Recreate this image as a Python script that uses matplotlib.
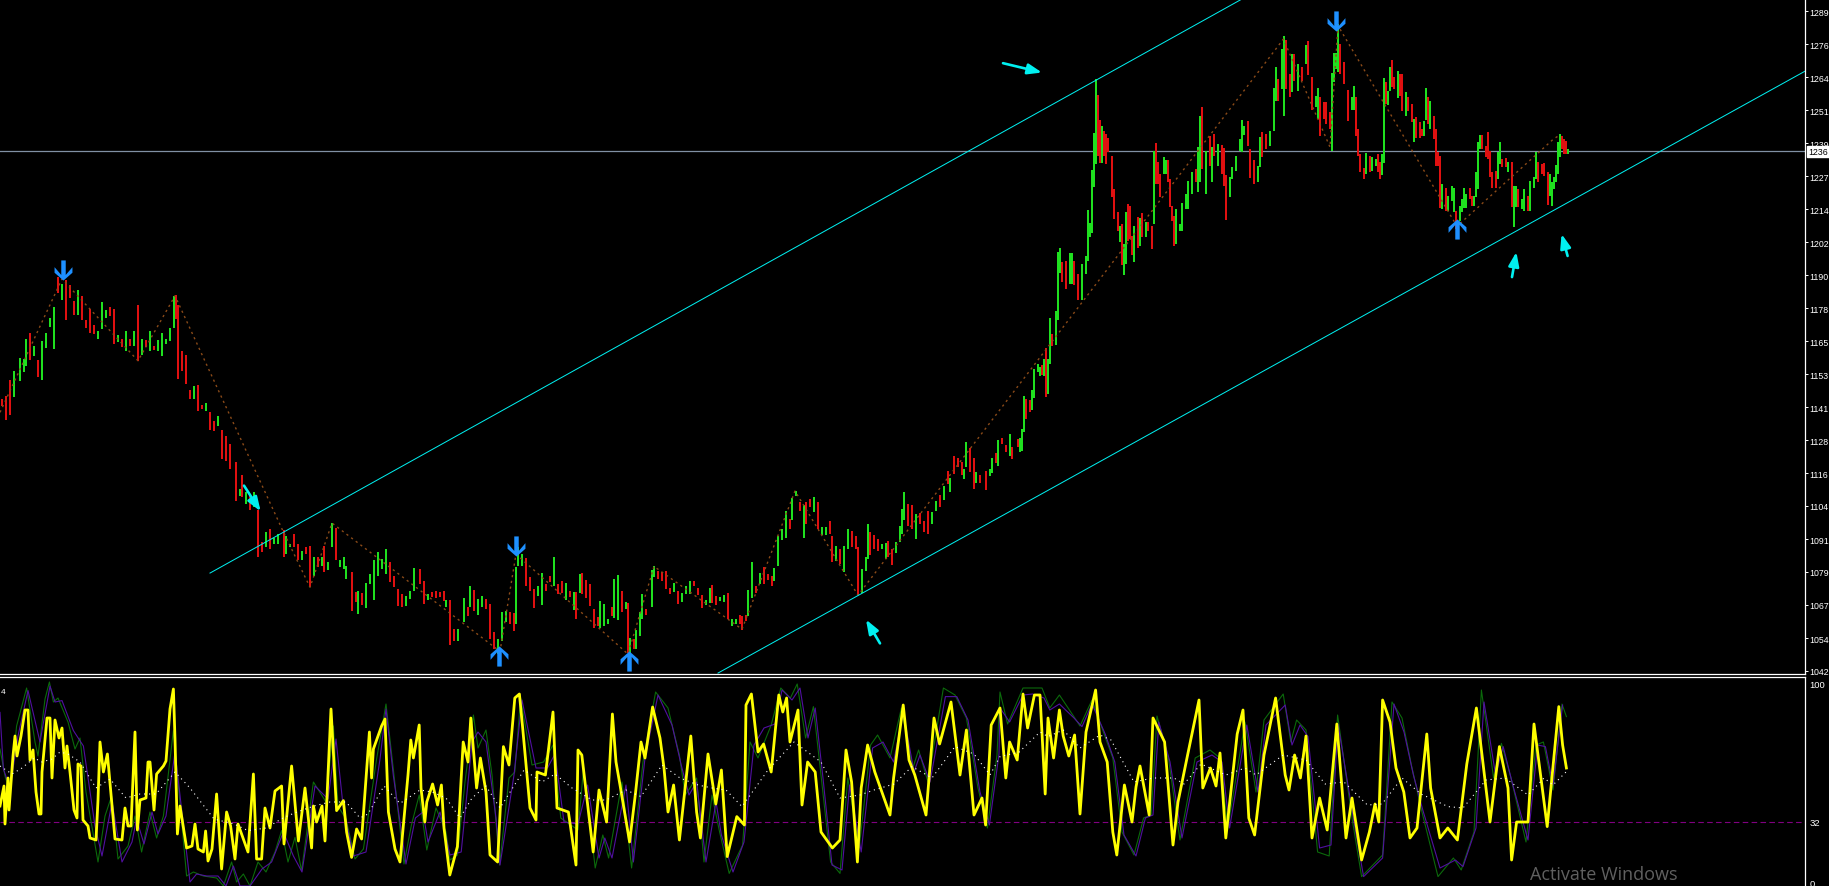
import matplotlib
matplotlib.use("Agg")
import matplotlib.pyplot as plt
from matplotlib.path import Path

# GLOBAL CONSTANTS
W, H = 1829, 887
PANE_RIGHT = 1805
PANE_SPLIT = 675
GREEN = '#1fe01f'
RED = '#e01010'
CYAN = '#00f0f0'
BLUE = '#1e90ff'
BROWN = '#8a4a18'

# price bars in stretches (bar number, high, low, r/g)
no_a = [1,3,5,7,10,12,13,15,17,19, 21,23,25,27,29,31,33,35,37,39, 41,43,45,47,49,51,53,55,57,59,
        61,63,65,67,69,71,73,75,77,79, 81,83,85,87,88,89,91,93,95,97, 99,101,103,105,107,109,111]
high_a = [1144.4,1145.6,1151.5,1155,1159.7,1159.3,1166.8,1169,1164.3,1159,
          1166,1169,1174.6,1178.7,1190,1187.4,1189,1187,1181,1185,
          1183,1174,1178,1172,1170,1180.8,1177.8,1178.7,1178,1168.3,
          1167,1170,1167,1170,1179.5,1166.8,1166.5,1169.7,1164.3,1166.5,
          1169,1167,1171,1183,1183.3,1179.5,1162.5,1161,1147.8,1149.4,
          1149.6,1142,1143,1139.4,1136,1138,1132.8]
low_a = [1141.6,1136.7,1138.5,1145,1151.2,1154.6,1156.9,1159,1160.6,1152.5,
         1151.6,1163.5,1171.4,1163,1184,1181.5,1174,1182,1176,1176,
         1174,1171,1169,1168.7,1167,1170.6,1174.6,1175.6,1165,1165.6,
         1164,1162.5,1164.3,1164.3,1158.7,1160.8,1163.7,1162.5,1162.7,1162.5,
         1160.6,1165,1166,1171,1174.3,1152,1155,1150,1144.4,1144.4,
         1140,1140.6,1139.8,1132.8,1132.5,1134.4,1122]
dir_a = "rrrggggrgr" "ggggrgrrrg" "rrrrgggrrg" "rgrgrgrgrg" "ggggrrrrrg" "rrgrrgr"

no_b = [113,115,118,120,121,123,125,127,129,131, 133,135,137,139,142,143,145,147,149,151,
        153,155,157,159,161,162,164,166,168,170, 172,173,176,178,179,181,183,185,187,189,
        191,193,195,197,199,201,203,205,207,210, 212,214,216,218,220,222,223,225,227,229,
        232,234,235,237,239,241,243,245,247,249, 251,253,255,257,258,259,261,263,265,267,
        269,271,273,275,277,279]
high_b = [1130.6,1127.6,1121,1110.8,1116,1109.5,1108,1109.5,1102.7,1090.8,
          1094.5,1095.8,1092.3,1093.9,1095.5,1093.3,1090.2,1093.9,1090.2,1087.7,
          1089,1089.6,1085.2,1085.2,1085.2,1089.6,1083.3,1098,1096,1084,
          1085.2,1081.8,1079.6,1072.1,1072.7,1071.7,1075.6,1079,1084.3,1087,
          1084.6,1088.3,1083.3,1078.3,1073.3,1071.5,1070.9,1072.7,1081.2,1080.8,
          1076.5,1071.5,1072.1,1072.7,1072.1,1072.7,1069.4,1069.4,1058.4,1058.4,
          1069.9,1066.5,1074.6,1073,1069.6,1070.9,1069.6,1067.7,1057.1,1054.6,
          1064.6,1065.2,1064.6,1064.4,1081.5,1089,1086.4,1085,1077.7,1073.4,
          1074.6,1079.2,1075.2,1078.3,1085.2,1075.2]
low_b = [1121.2,1118.2,1106.4,1108,1107.6,1105.1,1103,1103.9,1085.2,1087,
         1089,1088.3,1090.2,1090.2,1085.2,1086.4,1089,1089,1084,1084,
         1086.4,1074,1078.3,1081.5,1082,1079.6,1080.6,1089,1084.2,1081.5,
         1080.8,1077,1065.2,1068.6,1064,1067.4,1066.1,1075.2,1069.4,1078.3,
         1080.8,1079,1075.8,1074,1067.1,1066.5,1067.1,1069.6,1072.7,1075.2,
         1067.7,1069.4,1070.2,1070,1070.2,1069,1066.5,1052.5,1054,1054,
         1061.1,1063.4,1066.5,1065.2,1063.7,1066.5,1065.9,1054.6,1050.9,1049,
         1054,1060.9,1060.3,1057.8,1060.3,1082,1081.8,1074.6,1072.7,1066.1,
         1070.9,1067.4,1072.7,1075.8,1074.6,1071.5]
dir_b = "rrrgrgrgrr" "grggrggrrg" "rrgrgrggrg" "ggrrgrgggg" "ggrrrrgggr" "rgrrrrgrrg" "grgrggrrrg" "ggrrgggrrr" "ggrrgr"

no_c = [281,283,285,287,288,290,291,293,295,297, 299,300,302,304,306,307,309,311,313,314,
        315,317,318,320,321,323,326,327,329,331, 333,335,337,339,341,343,345,347,349,351,
        353,355,356,358,360,362,364,366,368,370, 371,373,374,376,378,380,382,384,386,387,
        389,391,393,395,396,398,400,402,403,405, 407,409,411,413,415,416,418,420,422,424,
        426,428,429,431,433,434,435,437,439,441, 443,444,446,448]
high_c = [1076.2,1075.4,1072.7,1072.3,1072.3,1078.9,1079.5,1076.7,1075.2,1065.8,
          1062.7,1068.8,1067.7,1062.1,1066.7,1077,1078.5,1072.7,1068.3,1068,
          1055.2,1054.6,1058,1064.8,1071.4,1065.8,1080.4,1081.8,1080.2,1079.8,
          1080.2,1073.9,1075.6,1072.7,1071.8,1074.6,1076.4,1076.4,1073.9,1071,
          1069.3,1073.9,1074.9,1070.8,1070.2,1071,1072,1062.1,1062.1,1063.6,
          1063.3,1063.7,1073,1083.3,1074.6,1079.3,1081.7,1078.9,1078.1,1081.2,
          1093.3,1095.8,1102.6,1099.5,1107.2,1110.1,1105.7,1104.7,1106,1107,
          1107.6,1105.7,1096.4,1096.4,1098.9,1093.3,1089.5,1088.3,1089.3,1095.8,
          1095.1,1093.3,1088.9,1080.8,1085.2,1097.6,1094.5,1093.5,1092,1090.1,
          1090.5,1091.4,1088.3,1091]
low_c = [1071.8,1069.3,1070.2,1065.6,1062.1,1071.7,1071.4,1069.8,1066.8,1058.6,
         1059.6,1058.6,1059.6,1060.2,1063.3,1062.5,1061.8,1064.6,1065.8,1049.4,
         1047.1,1050.9,1050.9,1055.6,1062.1,1063.6,1066.7,1077.7,1077,1076.4,
         1073.3,1071.4,1072.3,1067.7,1068.6,1071.4,1071.4,1074.6,1071,1066.4,
         1067.3,1068.1,1068.1,1067.4,1068.9,1068.3,1062.1,1059.6,1060.2,1060.2,
         1058,1061.5,1063.3,1069.8,1071.8,1075.2,1075.2,1076.7,1074.6,1076.4,
         1082,1091.8,1092.6,1095.8,1099.2,1108.2,1102.6,1092.4,1097.6,1103.9,
         1102,1095.8,1093.5,1093.5,1093.9,1083.3,1083.9,1082.7,1079.6,1088.3,
         1088.9,1088.3,1071,1072,1080.2,1084.5,1086,1088.3,1087.6,1088.3,
         1084.5,1085.2,1082.4,1086.8]
dir_c = "rgrgrgrrrr" "rgggrggrgr" "grgggrggrr" "rrgrgggrrr" "ggrrggrggr" "rrggrgrrrg" "gggrggrgrr" "grggrrgrgg" "rrrgggrrrg" "grrg"

no_d = [450,451,452,454,456,458,460,462,464,466, 468,470,472,474,475,477,479,481,482,483,
        485,487,488,490,493,495,496,498,499,501, 503,505,506,509,510,511,512,513,515,516,
        517,519,520,521,522,523,524,525,526,528, 529,530,531,533,535,536,537,539]
high_d = [1097,1103.2,1109.5,1105,1104.7,1101.4,1101.9,1098.9,1102.6,1102.2,
          1106.4,1108.5,1111.7,1117.6,1115,1123.2,1122.2,1120.7,1118.2,1128.2,
          1126,1122.2,1117,1116,1117.6,1118.2,1122.2,1124.2,1129,1129.7,
          1127.2,1131.3,1126.3,1129.4,1129.8,1133.2,1145.6,1144.4,1144,1147.8,
          1155.6,1157.5,1156.5,1157.1,1159.3,1163.5,1159.3,1174.7,1168.7,1177.4,
          1199.5,1201,1195.5,1196,1199,1199,1196,1191.1]
low_d = [1091,1093.9,1099,1097,1095.7,1092,1097.6,1094.5,1093.9,1097.6,
         1102.6,1103.9,1106.6,1112.6,1109.5,1116.3,1118.8,1116,1114.5,1119,
         1117,1110.7,1113,1113,1110.4,1115.7,1116.7,1120.4,1119.4,1127.5,
         1124.4,1123.2,1122,1126.3,1124.4,1125,1132.2,1137,1139.4,1140.4,
         1144.8,1154.4,1153.1,1153.5,1153.1,1145.2,1146.3,1157.5,1164.3,1164.6,
         1174,1191.5,1188.3,1185.5,1187.4,1187.4,1187,1181.4]
dir_d = "gggrrgrrrg" "grgrgrrrgg" "rrgrrggrgr" "rgrrgggrrg" "gggrgrggrg" "ggrrggrr"

no_e = [541,543,544,545,546,547,548,549,550,551, 552,553,554,556,557,559,560,561,562,563,
        564,565,566,567,569,570,571,573,574,576, 577,578,579,580,582,583,584,585,586,587,
        588,590,591,593,594,596,598,599,600,601, 603,605,606,607,609,611,612,613,615,616,
        618,620,621,622,624,625,627,629,630,631, 633,635,637,638,639,641,642,643,645,646,
        647,649,651,653,654,656,658,659,660,662, 663,665,666,667,668,669,670,672,674,676,
        677,678,679,680,682,683,685,686,688,689, 690]
high_e = [1194.9,1198,1214.9,1210.2,1230,1244,1264.1,1258.1,1248.8,1246.6,
          1244.8,1243.5,1241.9,1235.4,1222.9,1214.5,1209.2,1209.9,1202.4,1214.2,
          1217.3,1216.7,1205.5,1209.2,1212.4,1212,1214,1210.5,1210.5,1209.2,
          1237,1240,1232.9,1228.6,1234.8,1233.6,1233.6,1226.7,1216.7,1213,
          1215.5,1209.9,1217.6,1221,1226.1,1229.2,1230.4,1238.5,1250.4,1253.5,
          1237.3,1242.9,1238.5,1243.5,1239.8,1239.4,1238.2,1228.3,1227.3,1231.1,
          1235.4,1241.7,1248.8,1246.6,1248.5,1237.9,1233.6,1231.7,1242.3,1244.4,
          1243.5,1244.8,1260.7,1268.5,1264.1,1275.3,1280.1,1278.5,1266,1273.5,
          1273.5,1269.7,1268.5,1276.8,1278.2,1264.7,1257.6,1260.7,1257.3,1255.4,
          1255.4,1251.6,1266.4,1273.8,1273.8,1284.7,1277.2,1270.3,1260,1257.3,
          1261.4,1257.3,1245.4,1236.1,1230.7,1236.4,1235.4,1234.8,1234.2,1236.1,
          1233]
low_e = [1181.6,1191,1196,1205.1,1206.5,1223.8,1232.3,1235.4,1232.7,1232.7,
         1235.4,1232.3,1236.7,1219.8,1211.7,1207.4,1203,1194.5,1190.8,1194.9,
         1203.4,1204.3,1198.3,1195.8,1201,1201.8,1204.9,1204.9,1207.4,1200.5,
         1209.9,1224.8,1224.8,1219.8,1228.6,1228.6,1225.5,1216.1,1211.1,1201.8,
         1202.4,1207.4,1207.4,1215.5,1215.5,1221,1225.5,1221.7,1225.5,1230.4,
         1221,1231.7,1225.5,1235.4,1231.7,1228.6,1224.2,1211.4,1219.8,1226.7,
         1229.8,1237.3,1236.9,1243.2,1239.2,1227,1224.8,1225.5,1231.1,1234.8,
         1237.9,1239.2,1244.8,1256,1256,1260.4,1250.4,1260.4,1257.3,1259.1,
         1263.5,1259.7,1263.5,1269.7,1265.4,1252.3,1253.5,1249.2,1242.9,1249.2,
         1247.3,1245.4,1237,1263.1,1267.9,1266.6,1266,1262.2,1248.5,1252.3,
         1252.3,1242.9,1235.4,1229.4,1226.7,1228.6,1229.2,1229.8,1231.7,1229.2,
         1226.7]
dir_e = "gggggggrrg" "rrrrrrgrgg" "rrrgrgrgrr" "grrrggrrrr" "ggggggrggr" "grgrgrrrgg" "ggggrrrggr" "rgggrggrrg" "rgrgrrggrr" "rrggggrrrg" "grrrrgrggr" "r"

no_f = [691,692,693,694,695,696,697,699,700,701, 703,704,706,707,708,710,711,712,713,714,
        715,717,718,719,720,721,723,724,726,727, 728,730,731,732,733,735,736,737,738,739,
        740,741,743,744,745,746,748,749,750,751, 753,754,756,757,758,759,761,762,764,765,
        767,768,769,771,772,774,775,776,777,778, 779,780,781,782,783,784]
high_f = [1236,1264.3,1262.8,1259.5,1268.4,1271.2,1264.7,1267.2,1265.9,1265.9,
          1259.1,1257.2,1254.7,1249.1,1249.7,1247.9,1245.4,1248.5,1260.7,1257.2,
          1256,1250.1,1245.4,1236.6,1235.4,1224.8,1223.5,1220.4,1224.2,1223.5,
          1214.8,1216.7,1219.2,1223.2,1221,1223.2,1220.4,1220.4,1229.4,1240.4,
          1243.1,1243.1,1239.1,1244.1,1237.3,1229.4,1229.8,1236.6,1240.6,1234.1,
          1234.4,1233.1,1232.9,1224.2,1224.2,1222.9,1219.2,1222.9,1220.4,1226,
          1227.3,1236.9,1232.9,1232.3,1232.6,1229.2,1228.5,1225.4,1227.3,1232,
          1240.4,1243.5,1242.9,1241.6,1241,1237.9]
low_f = [1228,1232.5,1254.7,1254.3,1259.7,1261,1260.3,1257,1257.8,1252.2,
         1250.4,1252.2,1247.9,1240.6,1242.2,1242.2,1242.9,1242.9,1248.7,1247.2,
         1245.4,1241.6,1231.7,1231.7,1216,1215.4,1214.8,1214.8,1218.6,1214.2,
         1208,1211,1214.2,1216,1216,1219.2,1216.7,1216.7,1219.8,1222.9,
         1237.9,1237.9,1234.8,1234.1,1227.3,1223.5,1223.5,1226.7,1232.3,1231,
         1231,1229.4,1216.1,1208.8,1216.1,1216.1,1215.4,1214.8,1214.8,1214.8,
         1223.5,1226.7,1225.7,1228.5,1227.9,1216.9,1220.4,1216.7,1222.9,1225.7,
         1228.5,1234.8,1237.9,1236,1236,1236]
dir_f = "ggrggrrgrr" "grrgrrrggr" "grrrrgrggg" "rggggrrggg" "grrrrrrggr" "rgrggrggrg" "ggrrrrgggg" "ggrrrg"

# zigzag indicator turning points
zig_no = [0,31,69,87.5,141,155,166,250,258,314,327,371,397.5,429,641.7,665,669,728.5,776.7,779.6]
zig_price = [1139.4,1189.3,1158.7,1183,1095.8,1074,1098,1050,1086.4,1049,1081.8,1058.3,1110,1071,1279,1238.6,1284,1209,1241.6,1243]

# channel lines and current price
upper_no, upper_price = [105,621], [1079.3,1294]
lower_no, lower_price = [359,902.5], [1041.9,1267]
last_price = 1237

# blue signal arrows
down_no, down_price = [31.7,258,668], [1192.6,1089.4,1285.8]
up_no, up_price = [249.3,314.3,728.3], [1048.3,1046.5,1208]

# hand drawn cyan arrows: tail then tip
tail_no = [122,501.5,440,756,783.8]
tail_price = [1112,1270,1053,1190,1197.9]
tip_no = [130.3,521,433,758.2,780.8]
tip_price = [1102.4,1266.5,1061.9,1199.4,1206.1]

tick_values = [1289.4,1277,1264.7,1252.4,1240,1227.7,1215.4,1203,1190.7,1178.4,1166,
               1153.7,1141.4,1129,1116.7,1104.4,1092,1079.7,1067.4,1055,1042.7]
tick_labels = ['1289','1276','1264','1251','1239','1227','1214','1202','1190','1178','1165',
               '1153','1141','1128','1116','1104','1091','1079','1067','1054','1042']

# oscillator
yellow_no = [0,2,2.5,4,4.5,6.5,7.5,8.5,10.5,12.5,14,15,16.5,18,19.5,20.5,21,23.5,25,26,27.5,29.5,31,32.5,33.5,35,37,38.5,39,40.5,41.5,44,45,48,49,50,51.7,53.7,57.5,61,62.5,64,65.5,67.5,68.7,70,73,74,75,77,78.3,81.7,83,85,86.7,87.5,88.7,90,93.3,96,97.5,99,101.7,102.8,104,106,108.3,110.8,113.3,115.3,117.5,119,124,126.7,128.3,130.8,132.5,135,137.5,140.8,142,145.8,149.2,152.5,155.8,156.7,158.3,161,162.5,165.5,168.3,171.7,173.3,175.8,178.3,180.8,184.7,185.8,186.7,190.8,192.5,194.2,197.5,
             200,204,205.4,206.7,209.6,210.5,212.4,213.4,216.3,218.8,220.7,222,224.9,228.7,231.6,234,235.4,238.3,240.2,243,245,248.8,251.7,254.5,257.4,259.7,261.2,265,268,268.5,272.7,276.5,278.5,284.2,288,289,290.9,296.6,299.5,303.3,306.2,308,310,314.8,317.7,320.5,322.5,326.3,330,332,334,336.8,339.7,345.4,348.3,350.2,354,357.9,360.7,363.6,368.4,372.2,373,375.7,379,381.8,385.6,389.4,391.4,393.3,395,399,401,403.8,407.6,410.5,416.2,420,423,425.8,428.7,430.6,433.8,437.4,445,446.8,451.6,454.5,457.4,463,467,469.8,475.5,480,483.2,487,491,492.8,495.6,
             500,502.9,504.8,508.6,511.5,513.8,517.2,520,522.6,524,526.8,529.7,531.6,534.4,537.3,540,543,547.8,550,553.6,556.4,558.4,562.2,566,568,570,574.6,576.5,582.3,586.5,589,593.8,599.5,601.4,605.2,608,610,612.9,618.6,621.5,624.4,627.3,632,637.8,642.6,644.5,647.3,650.2,653,656,659.8,663.6,668.4,673,676,680.8,684.7,687.5,689.4,691.3,695,698,701.9,705,708.5,713.4,715.3,720,723.9,728.7,733.4,738.2,745,749.7,754,755.8,758.3,764,767,773.6,779.4,781.3,783.2]
yellow_val = [40,50,31,54,38,65,75,65,75,88,88,63,68,47,36,36,57,84,84,54,83,74,79,59,70,57,38,34,61,60,33,30,24,23,43,72,57,66,23.5,23,39,30,30,77,28,43,44,62,62,38,56,60,62.5,88.5,98.5,73.5,26,40,19,20,31,18.5,17,27.5,12.5,18.5,46,8.5,37,30,13.5,31,17,56,13.5,13.5,39,29,47.5,50,21,60,22.5,49,19,40,32,40,22.5,88.5,37.7,42.7,27,14.3,28.5,23.5,77,54,68.5,80,83.5,37,18.5,
              12,55.5,73,64,80.5,49,32,42,51,40.5,50.5,29,5.5,19.7,72,62,84,49,64,47,15.5,12,69.7,60.5,94,96,80.5,39,33,57,55.5,87,39,37,10.5,68,65.5,17,48,32,86,62,50.5,22,46,72,64,89.5,74,59,37,50.5,23,75,37,24,66,41,58,14.7,34.7,30.5,90.5,96,67,71,57,95.5,87,94,72,88,40.5,62,57,27,19,23,68,52,12,49,70.5,57,35.5,54,90.5,63,55.5,35.5,84,71,92,55.5,78,35.5,44,30.5,80.5,
              89,54,72,63,96,79,95.5,95.5,46,84,64,88,75,65,75.5,36,77,98,72,62,27,15.5,50.5,32,49.5,60,35.5,84,72,20.5,42,65.5,93,49,59,50,66.5,24,76,88,34,25.5,65.5,94,55.5,48,65.5,54,75,24,44,28,81,24,44,13,27,41,32,93,82,59,47,24,29,76,49,24,29,23,61,89,32,69.7,49,13,32,32,81,29.7,89.7,70.5,59]

green_no = [0,2.5,5,8.3,13.3,17.5,19,22.5,24.7,26.7,29,34,37.5,40,43,49,52.5,55.8,59,64,67.5,70.8,75,78.3,81.7,86.7,93.3,96.7,101.7,108.3,111.7,115.8,118.3,121.7,125,129,133,137.5,140.8,144,147.5,150.8,156.7,163,166.7,169,173,177.5,181.7,188.3,193,
            202,205.7,209.6,213.4,218,223,225,228.7,232.5,236.7,239,243,246,249.8,254.5,257.4,260.3,266,271.8,276.5,280.4,289,291.8,297.6,301.4,304.3,311,315.8,321.5,327.8,334,339.7,342.6,348.3,352,356,359.8,364.6,371.3,375,379,385.6,390.4,395.2,398.6,402.8,406.7,410.5,415.3,420,423.9,429.6,435.3,438.8,445,450.7,456.4,459.3,464,471.7,477.5,483.2,489,493.7,498.5,
            500,503.8,511.5,516.3,521,524.9,529.7,536.4,540,546,551.7,556.4,561,567,571.8,575.6,578.5,584.2,590,597.6,605,610,613.9,622.5,628,632,641.6,645.4,648.3,653,658.8,664.6,668.8,676,680.8,691.3,696,701,705.7,710.5,719,726.7,730.6,737,740.7,746.8,750.7,755.5,763,768,771.7,776.5,781,783.2]
green_val = [68.5,55,47,80,99,72,65,93.5,102,92,94,82,68.5,74,47,12,35,45,13.5,20,35,17,37,24,35,77.7,5,7,5,4,0,12,2,6,0,12,7,17,27.7,12,24.3,7.7,52,42,80,40,33.5,13.5,18.5,63.5,91,
             11,30.5,45.5,18,39,27,13,15.5,52,85.5,69,78,55.5,10.5,54,57,94,60.5,62,70.5,34,28,59,9,25.5,14,52,9,62,97,89,65.5,45.5,54,12,45.5,27,6.3,20.5,72,64,80.5,99,94,101,74,89.7,55.5,12,6.3,54,19,70.5,75.5,64,89,59,68,52,99,95.5,84,49,29,65.5,
             97,81,99,99,99,89,95.5,85.5,80,93,77,64,27,15.5,34,35.5,85,64,23,64,68,64,29,82,47,83,96,72,83,78,17,15,85.5,34,4.7,15.5,92,84,60.5,39,4.7,14,8,27,98,54,71.3,54,22,70.5,72,48,91,84.7]

purple_no = [0,1.7,5,9,14,20,25,27.5,31,36.7,41.7,47.5,51,56,61,66,68.3,72,76,79,83,87.5,95,98.3,103.3,109,113,116.7,120,125,131,135.8,141.7,146.7,151,157.5,164,168,171.7,176.7,183,190,193,196.7,
             203,207.7,211.5,214,220,225,230.6,236,239,243,248,250,257,261,268,273.7,277.5,282,289,293.8,299.5,302.4,306,313,316.7,322.5,329,336,340.6,344.5,348.3,353,358,360.7,366.5,372,377,382,387.5,391,396,400,404,407.6,411.5,416,421,424.8,430.6,436.3,441.5,446.8,451.6,457,460,465,472.7,478.4,484,490,494.7,499.5,
             500,504.8,511.5,516.3,522,524.9,529.7,537,541,546,552.6,557.4,562,568,572.7,576.5,579.4,585,591,598.5,606,611,614.8,623.4,629,633,642.6,646,650,654,659.8,665.5,669,677,681.8,691.3,697,702,706.7,711.4,720,727.7,731.5,738,742,747.8,751.6,756.4,764,768.8,772.7,776.5,781.3]
purple_val = [86.8,58.5,49,75,97.7,72,100,92,92.7,77.7,70,30,15,42,12,22,33.5,21,37,26,35,67,2,6,5,5,0,10,0,0,8.5,12,27,15,7,50,43.5,73.5,38.5,15,17,63.5,88.5,55,
              11,34,37,22,37,15.5,17,72,77,72,34,10.5,55.5,93,59,59,66,32,31,50.5,14,24,14,50.5,12,64,95.5,80.5,60.5,45.5,52,12,42,25.5,7,22,70.5,79,81,98,93,99,74,89,54,10.5,8,50.5,17,69,72,62,87,57,65.5,52,94.7,94.7,83,47,30.5,66,
              89,82,95.5,96,94,88,91,84,79.7,91,76,62,25.5,15,34,35.5,82,62,24,62,65.5,62,29,80.5,47,80.5,90.5,70.5,80.5,74.7,19,20.5,81,32,4.7,14,91,77,55.5,38,9,13,9.7,29,92,55.5,69.7,50.5,23,70.5,69.7,50.5,90.5]

white_no = [0,6,11,17,21,26,30,34,40,48,55,63,70,78,87.5,95,107,117,124,133,142,148,157,165,173,180,184,192,
            200,210,216,223,230,236,243,250,262,271,277.5,286,296,303,313,320.5,331,340,349,356,363,371,384,397,410.5,420,430,437,447,456,466,477.5,487,495,
            500,509.6,520,524,531.6,540,550,555.5,567,576.5,587,592,600.5,613,622.5,628,641.6,653,662.6,672,683.7,691,701,710.5,724,731.5,743,752.6,764,772,776.5,783]
white_val = [60,56,59,64,62,63.5,67,66,62,49,53.5,44,46,46,57,49,33.5,31,27.7,29,34.3,36.8,40,42,42,34,36,50,
             41.3,48,47,44,34,44,50,39,58,52,56,49,43,43,48,44.7,60.5,54,50.5,49,48,39.7,58,72,62,44,45.5,48,51,59.7,54,69.7,66,55.5,
             64.7,67,77,74.7,78,69,75.5,73,52,54,54,51,61,55.5,59,55.5,65.5,63,51,52,40.5,41,54,46,39.7,39,53,54,45.5,54,50.5,57]
level = 32

# marker shape for the blue signal arrows
down_shape = Path([(-2,9),(2,9),(2,-4),(8,3),(8,-2),(0,-9),(-8,-2),(-8,3),(-2,-4),(-2,9)])
up_shape = Path([(x, -y) for x, y in down_shape.vertices])

plt.rcParams['font.family'] = ['Liberation Sans', 'DejaVu Sans']
f = plt.figure(figsize=(W/100, H/100), dpi=100, facecolor='black')
ax = f.add_axes([0, (H-PANE_SPLIT)/H, PANE_RIGHT/W, PANE_SPLIT/H], facecolor='black')
osc = f.add_axes([0, 0, PANE_RIGHT/W, (H-PANE_SPLIT-3)/H], facecolor='black')

for a in (ax, osc):
    a.set_xlim(0, PANE_RIGHT/2)
    a.set_xticks([])
    for s in ('left', 'top'):
        a.spines[s].set_visible(False)
    for s in ('right', 'bottom'):
        a.spines[s].set_color('white')
        a.spines[s].set_linewidth(0.9)
    a.yaxis.tick_right()
osc.spines['top'].set_visible(True)
osc.spines['top'].set_color('white')
osc.spines['top'].set_linewidth(0.9)
osc.spines['bottom'].set_visible(False)

ax.set_ylim(1041.55, 1294)
osc.set_ylim(0, 104.5)

# price pane
ax.plot(zig_no, zig_price, color=BROWN, lw=1.0, dashes=(1.6, 2.6), zorder=3)
stretches = [(no_a, high_a, low_a, dir_a), (no_b, high_b, low_b, dir_b), (no_c, high_c, low_c, dir_c),
             (no_d, high_d, low_d, dir_d), (no_e, high_e, low_e, dir_e), (no_f, high_f, low_f, dir_f)]
for nos, highs, lows, dirs in stretches:
    cols = [GREEN if d == 'g' else RED for d in dirs]
    ax.vlines(nos, lows, highs, colors=cols, lw=1.1, antialiased=False, zorder=2)

ax.plot(upper_no, upper_price, color=CYAN, lw=0.72, zorder=4)
ax.plot(lower_no, lower_price, color=CYAN, lw=0.72, zorder=4)
ax.axhline(last_price, color='#8090a4', lw=0.9, zorder=1)

ax.plot(down_no, down_price, ls='none', marker=down_shape, ms=14.5, mfc=BLUE, mew=0, zorder=5)
ax.plot(up_no, up_price, ls='none', marker=up_shape, ms=14.5, mfc=BLUE, mew=0, zorder=5)

for tx, ty, hx, hy in zip(tail_no, tail_price, tip_no, tip_price):
    ax.annotate('', xy=(hx, hy), xytext=(tx, ty), zorder=6,
                arrowprops=dict(arrowstyle='-|>,head_length=0.7,head_width=0.26', color=CYAN, lw=1.9,
                                shrinkA=0, shrinkB=0, mutation_scale=12))

ax.set_yticks(tick_values, tick_labels)
ax.tick_params(axis='y', colors='white', length=1.8, width=0.7, pad=1, labelsize=6.3)
ax.text(1 + 3/PANE_RIGHT, last_price, '1236', transform=ax.get_yaxis_transform(), color='black', fontsize=6.3,
        va='center', ha='left', zorder=10, clip_on=False,
        bbox=dict(facecolor='white', edgecolor='white', pad=0.8))

# oscillator pane
osc.axhline(level, color='#800080', lw=0.8, dashes=(5, 3), zorder=1)
osc.plot(green_no, green_val, color='#0b6a0b', lw=0.8, zorder=2)
osc.plot(purple_no, purple_val, color='#5010a0', lw=0.8, zorder=3)
osc.plot(white_no, white_val, color='white', lw=0.8, dashes=(1, 3.5), zorder=5)
osc.plot(yellow_no, yellow_val, color='#ffff00', lw=2.0, zorder=4)
osc.set_yticks([101, 32, 1.5], ['100', '32', '0'])
osc.tick_params(axis='y', colors='white', length=0, pad=3, labelsize=6.8)
osc.text(1.5, 97.5, '4', color='white', fontsize=6, va='center', ha='center')

f.text(1530/W, 1 - 875/H, 'Activate Windows', color='#606060', fontsize=13, family='Open Sans', va='center')

f.savefig('out.png', dpi=100, facecolor='black')
